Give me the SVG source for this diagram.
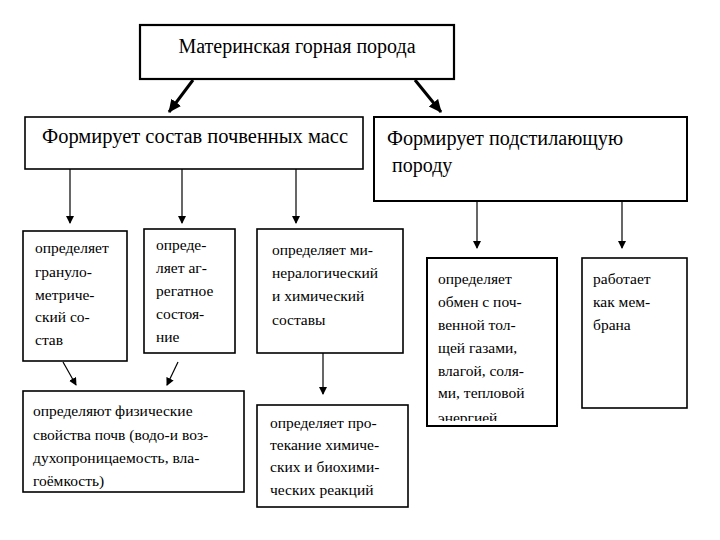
<svg xmlns="http://www.w3.org/2000/svg" width="720" height="540" viewBox="0 0 720 540">
<style>
.box{fill:#fff;stroke:#000;stroke-width:1.6}
.t{fill:#000}
.big{font-size:20px}
.sm{font-size:15.5px}
.ln{stroke:#000;stroke-width:1.2;fill:none}
.thick{stroke:#000;stroke-width:3;fill:none}
</style>
<defs>
<marker id="ah" markerWidth="8" markerHeight="8" refX="7" refY="4" orient="auto" markerUnits="userSpaceOnUse">
<path d="M0,0 L8,4 L0,8 Z" fill="#000"/>
</marker>
<marker id="ahb" markerWidth="14" markerHeight="14" refX="12" refY="7" orient="auto" markerUnits="userSpaceOnUse">
<path d="M0,1 L13,7 L0,13 Z" fill="#000"/>
</marker>
<clipPath id="clipF"><rect x="427" y="258" width="130" height="163"/></clipPath>
</defs>
<rect width="720" height="540" fill="#fff"/>
<g id="connectors">
<line class="thick" x1="193" y1="80" x2="169" y2="112" marker-end="url(#ahb)"/>
<line class="thick" x1="415" y1="80" x2="441" y2="112" marker-end="url(#ahb)"/>
<line class="ln" x1="70" y1="169" x2="70" y2="223" marker-end="url(#ah)"/>
<line class="ln" x1="182" y1="169" x2="182" y2="223" marker-end="url(#ah)"/>
<line class="ln" x1="296" y1="169" x2="296" y2="223" marker-end="url(#ah)"/>
<line class="ln" x1="477" y1="201" x2="477" y2="248" marker-end="url(#ah)"/>
<line class="ln" x1="622" y1="201" x2="622" y2="248" marker-end="url(#ah)"/>
<line class="ln" x1="323" y1="353" x2="323" y2="394" marker-end="url(#ah)"/>
<line class="ln" x1="63" y1="362" x2="76" y2="385" marker-end="url(#ah)"/>
<line class="ln" x1="178" y1="362" x2="167" y2="385" marker-end="url(#ah)"/>
</g>
<g font-family="Liberation Serif, Times New Roman, serif">
<g id="root">
<rect class="box" x="140" y="25" width="314" height="54" style="stroke-width:2.2"/>
<text class="t big" x="297" y="53" text-anchor="middle">Материнская горная порода</text>
</g>
<g id="soil">
<rect class="box" x="25" y="117" width="338" height="52"/>
<text class="t big" x="42" y="143" textLength="306" lengthAdjust="spacingAndGlyphs">Формирует состав почвенных масс</text>
</g>
<g id="bedrock">
<rect class="box" x="374" y="117" width="313" height="84" style="stroke-width:2"/>
<text class="t big" x="387" y="145" textLength="236" lengthAdjust="spacingAndGlyphs">Формирует подстилающую</text>
<text class="t big" x="392" y="172">породу</text>
</g>
<g id="granulo">
<rect class="box" x="23" y="231" width="104" height="130"/>
<text class="t sm" x="35" y="253">определяет</text>
<text class="t sm" x="35" y="277">грануло-</text>
<text class="t sm" x="35" y="300">метриче-</text>
<text class="t sm" x="35" y="322">ский со-</text>
<text class="t sm" x="35" y="345">став</text>
</g>
<g id="aggregate">
<rect class="box" x="144" y="229" width="91" height="124"/>
<text class="t sm" x="156" y="250">опреде-</text>
<text class="t sm" x="156" y="273">ляет аг-</text>
<text class="t sm" x="156" y="296">регатное</text>
<text class="t sm" x="156" y="319">состоя-</text>
<text class="t sm" x="156" y="342">ние</text>
</g>
<g id="mineral">
<rect class="box" x="257" y="229" width="146" height="124"/>
<text class="t sm" x="272" y="255">определяет ми-</text>
<text class="t sm" x="272" y="278">нералогический</text>
<text class="t sm" x="272" y="301">и химический</text>
<text class="t sm" x="272" y="325">составы</text>
</g>
<g id="reactions">
<rect class="box" x="257" y="405" width="151" height="102"/>
<text class="t sm" x="270" y="428">определяет про-</text>
<text class="t sm" x="270" y="450">текание химиче-</text>
<text class="t sm" x="270" y="472">ских и биохими-</text>
<text class="t sm" x="270" y="495">ческих реакций</text>
</g>
<g id="physical">
<rect class="box" x="23" y="391" width="221" height="101"/>
<text class="t sm" x="33" y="416">определяют физические</text>
<text class="t sm" x="33" y="440">свойства почв (водо-и воз-</text>
<text class="t sm" x="33" y="463">духопроницаемость, вла-</text>
<text class="t sm" x="33" y="486">гоёмкость)</text>
</g>
<g id="exchange">
<rect class="box" x="427" y="258" width="130" height="168" style="stroke-width:2"/>
<g clip-path="url(#clipF)">
<text class="t sm" x="438" y="284">определяет</text>
<text class="t sm" x="438" y="307">обмен с поч-</text>
<text class="t sm" x="438" y="330">венной тол-</text>
<text class="t sm" x="438" y="353">щей газами,</text>
<text class="t sm" x="438" y="376">влагой, соля-</text>
<text class="t sm" x="438" y="398">ми, тепловой</text>
<text class="t sm" x="438" y="423">энергией</text>
</g>
</g>
<g id="membrane">
<rect class="box" x="582" y="258" width="105" height="150"/>
<text class="t sm" x="593" y="284">работает</text>
<text class="t sm" x="593" y="307">как мем-</text>
<text class="t sm" x="593" y="330">брана</text>
</g>
</g>
</svg>
